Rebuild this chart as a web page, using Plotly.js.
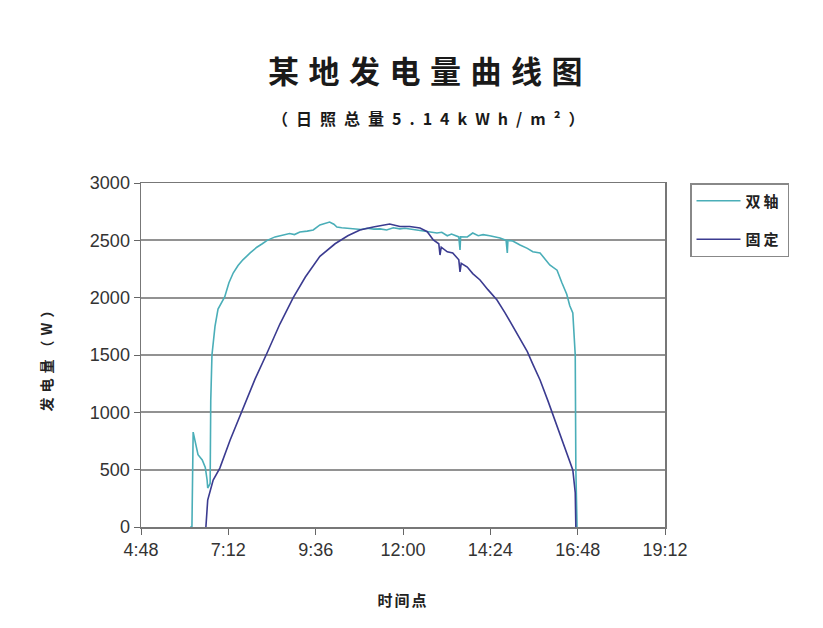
<!DOCTYPE html>
<html>
<head>
<meta charset="utf-8">
<script src="https://cdn.plot.ly/plotly-3.0.1.min.js"></script>
<style>
html,body{margin:0;padding:0;background:#fff;}
#chart{width:823px;height:628px;}
.gtitle{letter-spacing:9.5px;}
.annotation-text{letter-spacing:8px;}
.ytitle{letter-spacing:5px;}
.xtitle{letter-spacing:2px;}
.legendtext{letter-spacing:3px;}
</style>
</head>
<body>
<div id="chart"></div>
<script>
// 双轴 (dual-axis tracking) series
const dualTimes = ["06:09","06:12","06:14","06:17","06:22","06:29","06:34","06:37","06:38","06:42","06:43","06:45","06:47","06:50","06:55","07:06","07:13","07:20","07:28","07:36","07:48","07:59","08:08","08:16","08:29","08:42","08:53","09:01","09:10","09:22","09:32","09:43","09:52","09:59","10:06","10:11","10:19","10:28","10:41","10:51","11:01","11:12","11:22","11:33","11:44","11:55","12:03","12:12","12:20","12:28","12:41","12:56","13:04","13:13","13:20","13:26","13:32","13:34","13:35","13:46","13:55","14:04","14:12","14:23","14:31","14:40","14:50","14:52","14:53","15:01","15:13","15:25","15:34","15:46","16:02","16:14","16:22","16:30","16:35","16:40","16:44","16:45","16:47"];
const dualValues = [0,0,828,760,630,585,520,410,340,380,1100,1500,1600,1750,1900,2006,2130,2215,2280,2330,2390,2440,2470,2500,2530,2546,2560,2550,2572,2580,2590,2634,2650,2660,2640,2616,2610,2607,2600,2595,2605,2598,2600,2590,2610,2600,2605,2598,2595,2590,2575,2564,2570,2540,2555,2540,2530,2416,2530,2529,2564,2540,2550,2540,2530,2520,2500,2390,2500,2494,2460,2430,2400,2390,2285,2240,2130,2030,1930,1866,1500,500,0];
// 固定 (fixed) series
const fixedTimes = ["06:35","06:38","06:47","06:58","07:15","07:35","07:56","08:16","08:37","08:59","09:19","09:43","10:08","10:29","10:49","11:11","11:25","11:38","11:55","12:11","12:28","12:40","12:50","12:59","13:01","13:03","13:13","13:22","13:32","13:34","13:36","13:46","13:55","14:07","14:20","14:35","14:48","15:01","15:13","15:25","15:34","15:46","15:59","16:14","16:27","16:40","16:44","16:45"];
const fixedValues = [0,235,410,514,759,1020,1290,1520,1770,2000,2180,2360,2470,2540,2590,2616,2630,2642,2620,2620,2607,2575,2503,2470,2372,2440,2400,2390,2330,2224,2300,2267,2210,2154,2070,1980,1870,1750,1640,1530,1420,1282,1100,872,680,497,300,0];
const seriesNames = ["双轴","固定"];
const yTicks = [0,500,1000,1500,2000,2500,3000];

const day = "2024-01-01 ";
const toX = arr => arr.map(t => day + t);

const traces = [
  {x: toX(dualTimes), y: dualValues, name: seriesNames[0], type: "scatter", mode: "lines",
   line: {color: "#4aaeb8", width: 1.6}, legendgroup: "a"},
  {x: toX(fixedTimes), y: fixedValues, name: seriesNames[1], type: "scatter", mode: "lines",
   line: {color: "#3b3b90", width: 1.6}, legendgroup: "b"}
];

const tickFont = {family: "Liberation Sans, Arial, sans-serif", size: 18, color: "#333"};
const cjk = "Noto Sans CJK SC, sans-serif";

const layout = {
  width: 823, height: 628,
  margin: {l: 141, r: 158, t: 183, b: 101},
  paper_bgcolor: "#fff", plot_bgcolor: "#fff",
  title: {text: "某地发电量曲线图", font: {family: cjk, size: 31, weight: "bold", color: "#1a1a1a"},
          x: 430/823, xref: "container", xanchor: "center", y: 1 - 72/628, yref: "container", yanchor: "middle"},
  annotations: [{text: "（日照总量5.14kWh/m²）", xref: "paper", yref: "paper", x: (432-141)/524, y: (527-118)/344,
                 xanchor: "center", yanchor: "middle", showarrow: false,
                 font: {family: cjk, size: 16, weight: "bold", color: "#1a1a1a"}}],
  xaxis: {
    type: "date",
    range: [day + "04:48", day + "19:12"],
    tick0: day + "04:48", dtick: 8640000, tickformat: "%-H:%M",
    tickfont: tickFont, ticks: "outside", ticklen: 6, tickcolor: "#666",
    showgrid: false, showline: true, linecolor: "#777", linewidth: 1.5, mirror: true,
    zeroline: false,
    title: {text: "时间点", font: {family: cjk, size: 15, weight: "bold", color: "#222"}, standoff: 36}
  },
  yaxis: {
    range: [0, 3000], tickvals: yTicks, ticktext: yTicks.map(String),
    tickfont: tickFont, ticks: "outside", ticklen: 6, tickcolor: "#666",
    showgrid: true, gridcolor: "#929292", gridwidth: 2,
    showline: true, linecolor: "#777", linewidth: 1.5, mirror: true,
    zeroline: false,
    title: {text: "发电量（W）", font: {family: cjk, size: 14, weight: "bold", color: "#222"}, standoff: 34}
  },
  showlegend: true,
  legend: {x: (690-141)/524, xanchor: "left", y: 1, yanchor: "top",
           bordercolor: "#888", borderwidth: 1.5, bgcolor: "#fff",
           font: {family: cjk, size: 15, weight: "bold", color: "#222"},
           tracegroupgap: 16, itemwidth: 44, entrywidth: 112}
};

Plotly.newPlot("chart", traces, layout, {displayModeBar: false, staticPlot: true});
</script>
</body>
</html>
